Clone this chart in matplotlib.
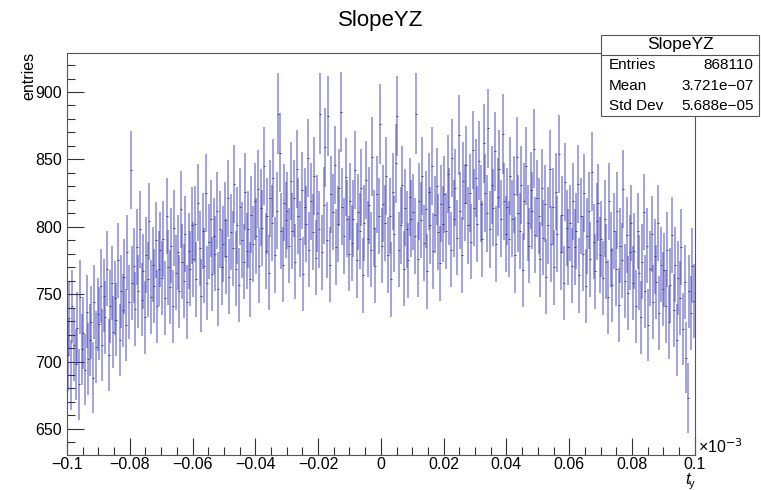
import numpy as np
import matplotlib.pyplot as plt

plt.rcParams['font.family'] = ['Liberation Sans', 'DejaVu Sans']

# bin contents, 400 bins from -0.1 to 0.1 (x1e-3)
counts = [
    705, 732, 690, 741, 712, 698, 725, 683, 748, 709, 721, 694, 737, 702, 716, 729, 688, 744, 711, 735,
    728, 756, 712, 749, 733, 769, 705, 741, 758, 722, 747, 731, 775, 716, 752, 738, 763, 727, 781, 744,
    842, 758, 771, 739, 785, 752, 798, 746, 767, 733, 779, 761, 804, 748, 772, 756, 790, 741, 769, 783,
    762, 791, 747, 808, 770, 755, 786, 741, 799, 766, 781, 752, 813, 774, 760, 795, 744, 782, 769, 801,
    776, 802, 761, 818, 784, 749, 797, 771, 825, 758, 789, 806, 765, 793, 780, 812, 754, 798, 770, 787,
    805, 778, 821, 763, 796, 784, 832, 769, 801, 757, 815, 790, 774, 826, 782, 798, 761, 809, 787, 819,
    793, 828, 771, 814, 799, 845, 782, 808, 766, 821, 803, 836, 779, 812, 884, 855, 797, 772, 818, 805,
    812, 786, 834, 797, 821, 774, 843, 808, 791, 827, 765, 815, 802, 851, 783, 819, 796, 838, 777, 810,
    798, 884, 781, 816, 859, 790, 882, 772, 824, 811, 846, 785, 802, 829, 885, 815, 793, 837, 806, 780,
    819, 788, 806, 842, 775, 811, 797, 829, 764, 803, 835, 791, 816, 783, 852, 799, 771, 824, 808, 876,
    786, 817, 803, 838, 779, 808, 761, 826, 795, 847, 882, 783, 801, 831, 769, 814, 798, 775, 822, 806,
    811, 793, 884, 776, 819, 805, 838, 788, 813, 767, 826, 801, 845, 782, 809, 830, 796, 773, 817, 802,
    824, 797, 839, 815, 783, 851, 806, 829, 792, 868, 812, 779, 834, 818, 846, 801, 825, 789, 857, 814,
    836, 802, 849, 817, 791, 862, 825, 810, 873, 798, 831, 814, 856, 787, 822, 843, 806, 869, 819, 795,
    815, 791, 838, 806, 824, 779, 852, 810, 797, 831, 768, 819, 845, 803, 786, 827, 812, 858, 794, 821,
    808, 776, 829, 792, 817, 763, 801, 843, 787, 815, 770, 826, 795, 854, 781, 809, 758, 833, 799, 785,
    803, 771, 819, 785, 797, 832, 764, 808, 780, 825, 756, 793, 812, 776, 841, 789, 767, 804, 818, 779,
    791, 762, 806, 774, 748, 819, 783, 757, 797, 769, 812, 742, 786, 775, 828, 760, 794, 751, 781, 803,
    758, 782, 741, 797, 766, 733, 774, 811, 752, 786, 727, 769, 795, 744, 778, 759, 803, 736, 772, 754,
    768, 741, 783, 729, 757, 794, 738, 772, 716, 762, 747, 785, 724, 759, 703, 673, 752, 736, 771, 745,
]
x_lo, x_hi = -0.1, 0.1
stats_names = ['Entries', 'Mean', 'Std Dev']
stats_vals = ['868110', '3.721e\u221207', '5.688e\u221205']

counts = np.array(counts, dtype=float)
edges = np.linspace(x_lo, x_hi, len(counts) + 1)
centers = 0.5 * (edges[:-1] + edges[1:])
errs = np.sqrt(counts)

fig = plt.figure(figsize=(7.61, 4.90), dpi=100)
ax = fig.add_axes([0.088, 0.071, 0.825, 0.821])

ax.vlines(centers, counts - errs, counts + errs, color='#3a3ab8', linewidth=1.3, alpha=0.5)
ax.plot(centers, counts, linestyle='none', marker='_', markersize=1.6, color='#20207a',
        markeredgewidth=0.7, alpha=0.8)

ax.set_xlim(x_lo, x_hi)
ax.set_ylim(630.5, 929)
ax.set_xticks(np.arange(-0.1, 0.1001, 0.02))
ax.set_xticks(np.arange(-0.1, 0.1001, 0.005), minor=True)
ax.set_yticks(np.arange(650, 901, 50))
ax.set_yticks(np.arange(640, 930, 10), minor=True)
xlabels = ['\u22120.1', '\u22120.08', '\u22120.06', '\u22120.04', '\u22120.02', '0',
           '0.02', '0.04', '0.06', '0.08', '0.1']
ax.set_xticklabels(xlabels)
ax.tick_params(which='major', direction='in', length=12, width=0.8, labelsize=11.5, color='#333333')
ax.tick_params(which='minor', direction='in', length=6, width=0.8, color='#333333')
ax.tick_params(axis='x', pad=1.5)
for s in ax.spines.values():
    s.set_color('#555555')
    s.set_linewidth(0.8)

fig.text(0.5, 0.958, 'SlopeYZ', ha='center', va='center', fontsize=16)
fig.text(0.038, 0.895, 'entries', rotation=90, ha='center', va='top', fontsize=11.5)
# x axis title t_y, drawn as two plain texts
fig.text(0.9035, 0.012, 't', ha='center', va='baseline', fontsize=12, style='italic')
fig.text(0.9095, 0.007, 'y', ha='center', va='baseline', fontsize=8)
fig.text(0.917, 0.088, '\u00d710$^{\u22123}$', ha='left', va='center', fontsize=11.5)

# stats box
bx0, bx1 = 601 / 761, 759 / 761
by0, by1 = 1 - 116 / 490, 1 - 35 / 490
sep = 1 - 55 / 490
fig.patches.append(plt.Rectangle((bx0, by0), bx1 - bx0, by1 - by0, transform=fig.transFigure,
                                 facecolor='white', edgecolor='#555555', linewidth=0.8, zorder=5))
fig.lines.append(plt.Line2D([bx0, bx1], [sep, sep], transform=fig.transFigure, color='#555555',
                            linewidth=0.8, zorder=6))
fig.text((bx0 + bx1) / 2, (sep + by1) / 2, 'SlopeYZ', ha='center', va='center', fontsize=12.5, zorder=7)
row_h = (sep - by0) / 3
for i, (n, v) in enumerate(zip(stats_names, stats_vals)):
    yy = sep - row_h * (i + 0.5)
    fig.text(bx0 + 0.01, yy, n, ha='left', va='center', fontsize=11, zorder=7)
    fig.text(bx1 - 0.007, yy, v, ha='right', va='center', fontsize=11, zorder=7)

fig.savefig('out.png', dpi=100)
